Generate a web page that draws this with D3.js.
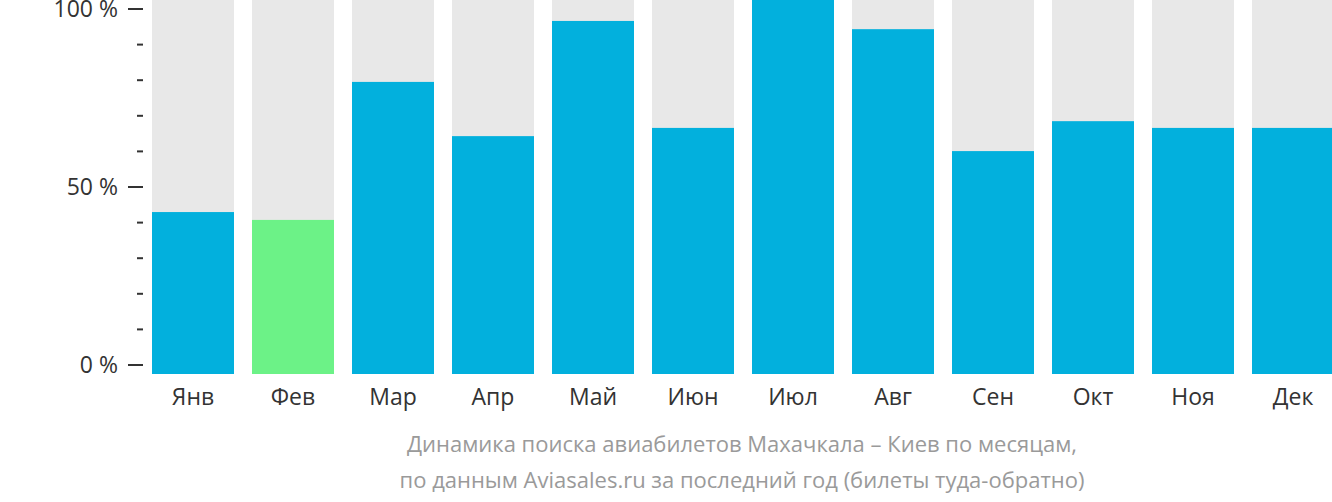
<!DOCTYPE html>
<html><head><meta charset="utf-8">
<script src="https://cdn.jsdelivr.net/npm/d3@7"></script>
<style>body{margin:0;background:#fff}text{font-family:"Open Sans",sans-serif}</style>
</head><body><div id="chart"></div>
<script>
const months = ["Янв","Фев","Мар","Апр","Май","Июн","Июл","Авг","Сен","Окт","Ноя","Дек"];
const values = [43.3, 41.2, 78.1, 63.6, 94.4, 65.8, 100, 92.2, 59.6, 67.6, 65.8, 65.8];
const highlight = "Фев";
const majorTicks = [0, 50, 100];
const minorTicks = [10, 20, 30, 40, 60, 70, 80, 90];
const caption = ["Динамика поиска авиабилетов Махачкала – Киев по месяцам,",
                 "по данным Aviasales.ru за последний год (билеты туда-обратно)"];

let width = 1332, height = 502;
let svg = d3.select("#chart").append("svg").attr("width", width).attr("height", height);

let x = d3.scaleBand().domain(months).range([143, 1343]).paddingInner(0.18).paddingOuter(0.09);
let yBar = d3.scaleLinear().domain([0, 100]).range([374, 0]);
let yAxis = d3.scaleLinear().domain([0, 100]).range([365, 9]);

// background bars
svg.selectAll(".bg").data(months).enter().append("rect")
   .attr("x", d => x(d)).attr("y", yBar(100)).attr("width", x.bandwidth())
   .attr("height", yBar(0) - yBar(100)).attr("fill", "#e8e8e8");

// value bars
svg.selectAll(".bar").data(months).enter().append("rect")
   .attr("x", d => x(d)).attr("y", (d, i) => yBar(values[i]))
   .attr("width", x.bandwidth()).attr("height", (d, i) => yBar(0) - yBar(values[i]))
   .attr("fill", d => d === highlight ? "#6cf287" : "#02b0dd");

// y axis ticks
svg.selectAll(".maj").data(majorTicks).enter().append("line")
   .attr("x1", 128).attr("x2", 143).attr("y1", d => yAxis(d)).attr("y2", d => yAxis(d))
   .attr("stroke", "#333").attr("stroke-width", 2);
svg.selectAll(".min").data(minorTicks).enter().append("line")
   .attr("x1", 137).attr("x2", 143).attr("y1", d => yAxis(d)).attr("y2", d => yAxis(d))
   .attr("stroke", "#333").attr("stroke-width", 2);
svg.selectAll(".yl").data(majorTicks).enter().append("text")
   .attr("x", 118).attr("y", d => yAxis(d) + 8).attr("text-anchor", "end")
   .attr("font-size", 23).attr("fill", "#333").text(d => d + " %");

// month labels
svg.selectAll(".xl").data(months).enter().append("text")
   .attr("x", d => x(d) + x.bandwidth() / 2).attr("y", 405).attr("text-anchor", "middle")
   .attr("font-size", 23).attr("fill", "#333").text(d => d);

// caption
svg.selectAll(".cap").data(caption).enter().append("text")
   .attr("x", 742).attr("y", (d, i) => 452 + i * 36).attr("text-anchor", "middle")
   .attr("font-size", 22).attr("fill", "#9a9a9a").text(d => d);
</script></body></html>
